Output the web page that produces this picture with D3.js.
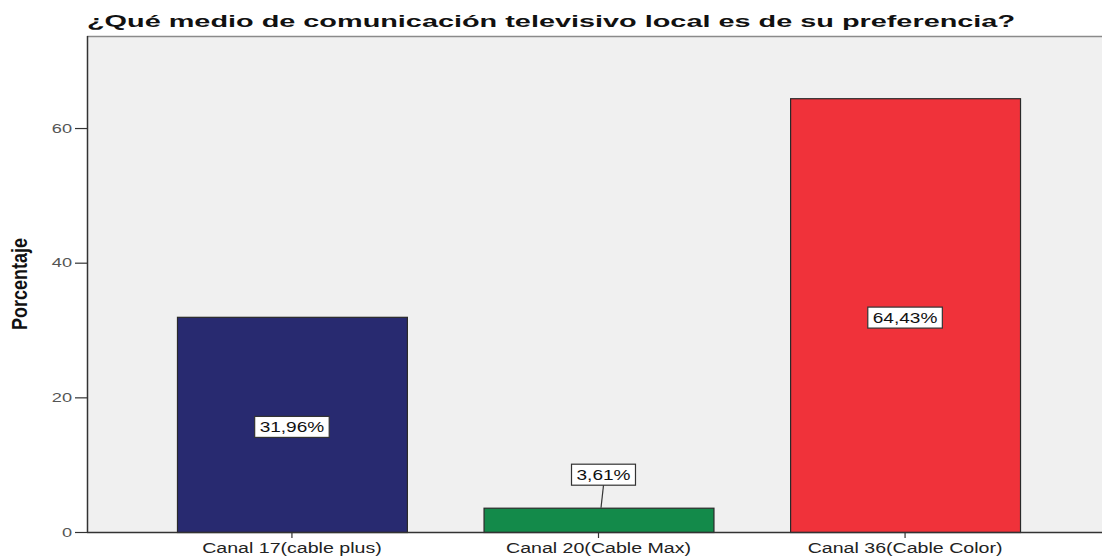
<!DOCTYPE html>
<html><head><meta charset="utf-8">
<script src="https://cdn.jsdelivr.net/npm/d3@7"></script>
<style>
html,body{margin:0;padding:0;background:#fff;}
svg{display:block;font-family:"Liberation Sans",Arial,sans-serif;}
</style></head>
<body>
<svg id="chart" width="1102" height="558"></svg>
<script>
const title = "¿Qué medio de comunicación televisivo local es de su preferencia?";
const yTitle = "Porcentaje";
const categories = ["Canal 17(cable plus)", "Canal 20(Cable Max)", "Canal 36(Cable Color)"];
const values = [31.96, 3.61, 64.43];
const colors = ["#282A70", "#138A4A", "#F0323A"];
const yTicks = [0, 20, 40, 60];

const W = 1102, H = 558;
const L = 87, T = 36, B = 532, R = 1110;
const SX = 1.4;
const svg = d3.select("#chart");

const x = d3.scaleBand().domain(categories).range([L, R]).paddingInner(0.25).paddingOuter(0.2935);
const y = d3.scaleLinear().domain([0, 73.67]).range([B, T]);

// plot background
svg.append("rect").attr("x", L).attr("y", T).attr("width", W - L).attr("height", B - T).attr("fill", "#F0F0F0");
// top frame line
svg.append("line").attr("x1", L).attr("x2", W).attr("y1", T + 0.5).attr("y2", T + 0.5).attr("stroke", "#8a8a8a").attr("stroke-width", 1.5);

// bars
svg.selectAll("rect.bar").data(values).join("rect").attr("class", "bar")
  .attr("x", (d, i) => x(categories[i]) + 0.5)
  .attr("y", d => y(d) + 0.5)
  .attr("width", x.bandwidth())
  .attr("height", d => B - y(d))
  .attr("fill", (d, i) => colors[i])
  .attr("stroke", "#2a2a2a").attr("stroke-width", 1.2);

// y axis
const ya = svg.append("g").attr("transform", `translate(${L},0)`)
  .call(d3.axisLeft(y).tickValues(yTicks).tickSize(12).tickPadding(3).tickFormat(d3.format("d")));
ya.select(".domain").attr("stroke", "#333").attr("stroke-width", 1.5).attr("d", `M0.5,${T}V${B}`);
ya.selectAll(".tick line").attr("stroke", "#333").attr("stroke-width", 1.2);
ya.selectAll(".tick text").attr("font-size", 13).attr("fill", "#555")
  .attr("font-family", "Liberation Sans, Arial, sans-serif")
  .attr("transform", `translate(-15,0) scale(${SX},1)`).attr("x", 0);

// x axis
const xa = svg.append("g").attr("transform", `translate(0,${B})`)
  .call(d3.axisBottom(x).tickSize(6).tickPadding(5));
xa.select(".domain").attr("stroke", "#333").attr("stroke-width", 1.5).attr("d", `M${L},0.5H${W}`);
xa.selectAll(".tick line").attr("stroke", "#333").attr("stroke-width", 1.2);
xa.selectAll(".tick text").attr("font-size", 14).attr("fill", "#222")
  .attr("font-family", "Liberation Sans, Arial, sans-serif")
  .attr("transform", `scale(${SX},1)`);

// value labels
const fmt = v => d3.format(".2f")(v).replace(".", ",") + "%";
const labelPos = values.map((v, i) => {
  const cx = x(categories[i]) + x.bandwidth() / 2;
  if (v < 8) return { cx: cx + 5, cy: y(v) - 33, leader: true, top: y(v) };
  return { cx: cx, cy: y(v / 2) + 2.5, leader: false };
});
values.forEach((v, i) => {
  const p = labelPos[i];
  const g = svg.append("g").attr("transform", `translate(${p.cx},${p.cy})`);
  const t = g.append("text").text(fmt(v)).attr("text-anchor", "middle").attr("dy", "0.36em")
    .attr("font-size", 14).attr("fill", "#111")
    .attr("transform", `scale(${SX - 0.04},1)`);
  const w = t.node().getComputedTextLength() * (SX - 0.04) + 10;
  const h = 21;
  g.insert("rect", "text").attr("x", -w / 2).attr("y", -h / 2).attr("width", w).attr("height", h)
    .attr("fill", "#fff").attr("stroke", "#333").attr("stroke-width", 1.2);
  if (p.leader) {
    svg.append("line").attr("x1", p.cx).attr("y1", p.cy + h / 2).attr("x2", p.cx - 2.5).attr("y2", p.top)
      .attr("stroke", "#333").attr("stroke-width", 1.2);
  }
});

// title
svg.append("text").text(title).attr("x", L).attr("y", 27)
  .attr("font-size", 17).attr("font-weight", "bold").attr("fill", "#111")
  .attr("textLength", 928).attr("lengthAdjust", "spacingAndGlyphs");

// y title
svg.append("g").attr("transform", `translate(27,${(238 + 330) / 2}) scale(${SX},1) rotate(-90)`)
  .append("text").text(yTitle).attr("text-anchor", "middle")
  .attr("font-family", "Liberation Sans Narrow, Arial Narrow, sans-serif")
  .attr("font-weight", "bold").attr("font-size", 16).attr("fill", "#111")
  .attr("textLength", 92).attr("lengthAdjust", "spacingAndGlyphs");
</script>
</body></html>
